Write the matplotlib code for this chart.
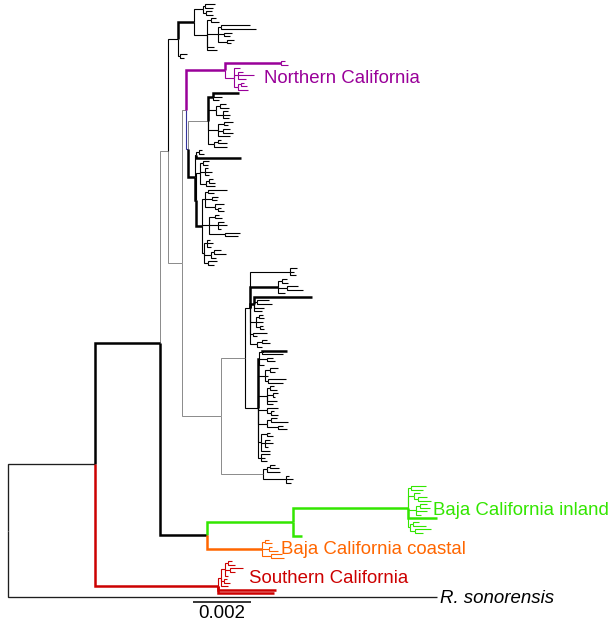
import matplotlib.pyplot as plt
from matplotlib.collections import LineCollection

plt.rcParams['font.family'] = ['Liberation Sans', 'DejaVu Sans']

UNIT = 1e-4  # branch lengths in the strings below are in 0.0001 subst./site

# tree pieces in newick; a label is the branch style of that node:
# lower case = colour (inherited by the subtree), upper case = same colour, thick branch
TOP_A = "((:3.4,:2.8):0.8,(:2,:2.4):1.2):3.1"
TOP_B = "((:1.5,:2.5):1.5,((:10,:12):1.2,(:3,:2):2,(:2.5,:1.5):3):3.8,:2.5,:3.5):4.5"
TOP = "((" + TOP_A + "," + TOP_B + ")K:5.5,(:2.5,:1.5):0.7)k:3.4"

NORTH_A = "(:1.5,:2.5)N:19.3"
NORTH_B = "(:2.2,(:1.5,:5.5,:2.5):1.5,((:1,:2):1,:3.5):1.5):3.1"
NORTH = "(" + NORTH_A + "," + NORTH_B + ")N:13.4"

GREY = ("((K:9,:3,:2)K:1.7,((:2,:3):1.5,(:1.5,:2.5,:2):2.5)k:2.7,"
        "((:3,:1.5):2,(:2.5,:3.5):1.5,:4)k:3.5,((:1,:3):1.5,:4.5)k:2)g:6.9")

BLACK_A = "((:1.2,:1.8):0.8,K:15.5):0.4"
BLACK_B = "((:2,:1.5):1,(:1,:2.5,:1.5):1.5,((:1.5,:2):1,:3):2):1.4"
BLACK_C = "((:6.5,:2):1,(:2,:1.5):2.5,(:3,(:1,:2):1):3.5):1"
BLACK_D = "((:1.5,:2.5):2,(:2,:3,:1):3,(:5,:4.5):5.5):2.5"
BLACK_E = "((:1,:2,:1.5):1,((:2.5,:4):1,:1.5):2.5,(:3,:2):1.5):0.7"
BLACK = ("(" + BLACK_A + ",(" + BLACK_B + ",(" + BLACK_C + "," + BLACK_D + ","
         + BLACK_E + ")K:2)K:0.4)K:2.4")

BLUE = "(" + NORTH + ",(" + GREY + "," + BLACK + ")l:0.7)g:1.4"

LOW_A = ("((:2.5,:1.5,:2):13.8,((:1.5,:2):1.5,(:4,:5.5):3,:2.5)K:9.7,"
         "(K:20,(:4,:5):1,:3.5,:2.5)K:1.5,((:1.5,:2):1,:2.5,(:1,:1.5):1.5):2,"
         "(:5,:1.5):1,((:2,:3):1.5,:1.5):2.5)k:1.7")
LOW_B = ("(((K:8.5,:7):1,(:2,:3):2.5,:1.5)K:0.5,((:3,:2):1.5,:1,(:6,:5):1):2.5,"
         "((:1.5,:2.5):1,(:2,:1):2,:3.5,:2):3,(:4,(:1,:2.5):1.5):3,"
         "((:2,:6):1.5,(:1.5,:3):4):3,((:1,:2):2,(:1.5,:2.5,:1):1.5,:3):1,"
         "(:3,:1.5,:2):1)k:4.5")
LOW_C = "(((:1.5,:3):1,:4.5)k:1.5,(:1,:2.5,:1.5)k:8)g:14.5"
LOWER = "((" + LOW_A + "," + LOW_B + ")g:8.3," + LOW_C + ")g:13.4"

UPPER = "(" + TOP + ",(" + BLUE + "," + LOWER + ")g:4.8)g:2.8"

INLAND = ("((:5,:4):1,(:2,(:3,:4.5):1.5):2,((:2.5,:3.5):1.5,:4,:2):2.5,I:10,"
          "((:2,:4.5):1,(:5.5,:3):1.5):0.7)I:39.7")
COASTAL = "((:1.5,:2.5):1,(:1,:3):2.5,(:4,:4.5):3)O:19.0"
BAJA = "((" + INLAND + ",I:3.1)I:29.7," + COASTAL + ")K:16.2"

SOUTH = "((((:1.5,:2.5):1,(:4.5,:2):1.5,:1):1.5,(:1,:2):1,:2.5):1,S:20,S:19.3)S:42.4"

OUTGROUP = 148

TREE = "(((" + UPPER + "," + BAJA + ")K:22.4," + SOUTH + ")d:30,:" + str(OUTGROUP) + ");"

COLORS = {'k': '#000000', 'd': '#1e1e1e', 'g': '#8a8a8a', 'n': '#990099',
          'l': '#34349a', 's': '#cc0000', 'i': '#33e600', 'o': '#ff6600'}
WIDTHS = {'k': 0.8, 'd': 0.95, 'g': 0.7, 'n': 0.8, 'l': 0.8, 's': 0.8, 'i': 0.8, 'o': 0.8}
THICK = 1.8

CLADE_LABELS = [
    ("Northern California", 0.00883, 22.2, 'n', 'normal'),
    ("Baja California inland", 0.01466, 143.1, 'i', 'normal'),
    ("Baja California coastal", 0.00941, 154.1, 'o', 'normal'),
    ("Southern California", 0.00831, 162.2, 's', 'normal'),
    ("R. sonorensis", 0.01490, 167.7, 'k', 'italic'),
]
SCALE_LEN = 0.002


def parse(s):
    pos = 0

    def read():
        nonlocal pos
        node = {'kids': []}
        if s[pos] == '(':
            pos += 1
            node['kids'].append(read())
            while s[pos] == ',':
                pos += 1
                node['kids'].append(read())
            pos += 1
        start = pos
        while s[pos] not in ':,();':
            pos += 1
        node['label'] = s[start:pos]
        node['len'] = 0.0
        if s[pos] == ':':
            pos += 1
            start = pos
            while s[pos] not in ',();':
                pos += 1
            node['len'] = float(s[start:pos]) * UNIT
        return node
    return read()


leaves = []


def layout(node, x, style):
    node['x'] = x + node['len']
    node['style'] = node['label'] if node['label'] else style.lower()
    if node['kids']:
        for kid in node['kids']:
            layout(kid, node['x'], node['style'])
        node['y'] = (node['kids'][0]['y'] + node['kids'][-1]['y']) / 2
    else:
        node['y'] = len(leaves)
        leaves.append(node)


segs = []


def collect(node):
    for kid in node['kids']:
        st = kid['style']
        lw = THICK if st.isupper() else WIDTHS[st]
        segs.append((lw, [(node['x'], node['y']), (node['x'], kid['y']), (kid['x'], kid['y'])],
                     COLORS[st.lower()]))
        collect(kid)


root = parse(TREE)
layout(root, 0.0, 'd')
collect(root)
segs.sort(key=lambda s: s[0])

fig = plt.figure(figsize=(6.11, 6.24), dpi=100)
ax = fig.add_axes([0, 0, 1, 1])
lc = LineCollection([s[1] for s in segs], colors=[s[2] for s in segs],
                    linewidths=[s[0] for s in segs], joinstyle='miter', capstyle='butt')
ax.add_collection(lc)

n = len(leaves)
ax.set_xlim(-0.000276, 0.02079)
ax.set_ylim(n - 1 + 7.56, -1.12)
ax.axis('off')

for text, x, y, st, fstyle in CLADE_LABELS:
    ax.text(x, y, text, color=COLORS[st], fontsize=13.4, fontstyle=fstyle,
            ha='left', va='baseline')

# scale bar
x0 = 0.00638
ax.plot([x0, x0 + SCALE_LEN], [167.4, 167.4], color='black', lw=1.1, solid_capstyle='butt')
ax.text(x0 + SCALE_LEN / 2, 171.9, f"{SCALE_LEN:g}", fontsize=13.4, ha='center', va='baseline')

fig.savefig('out.png', dpi=100)
